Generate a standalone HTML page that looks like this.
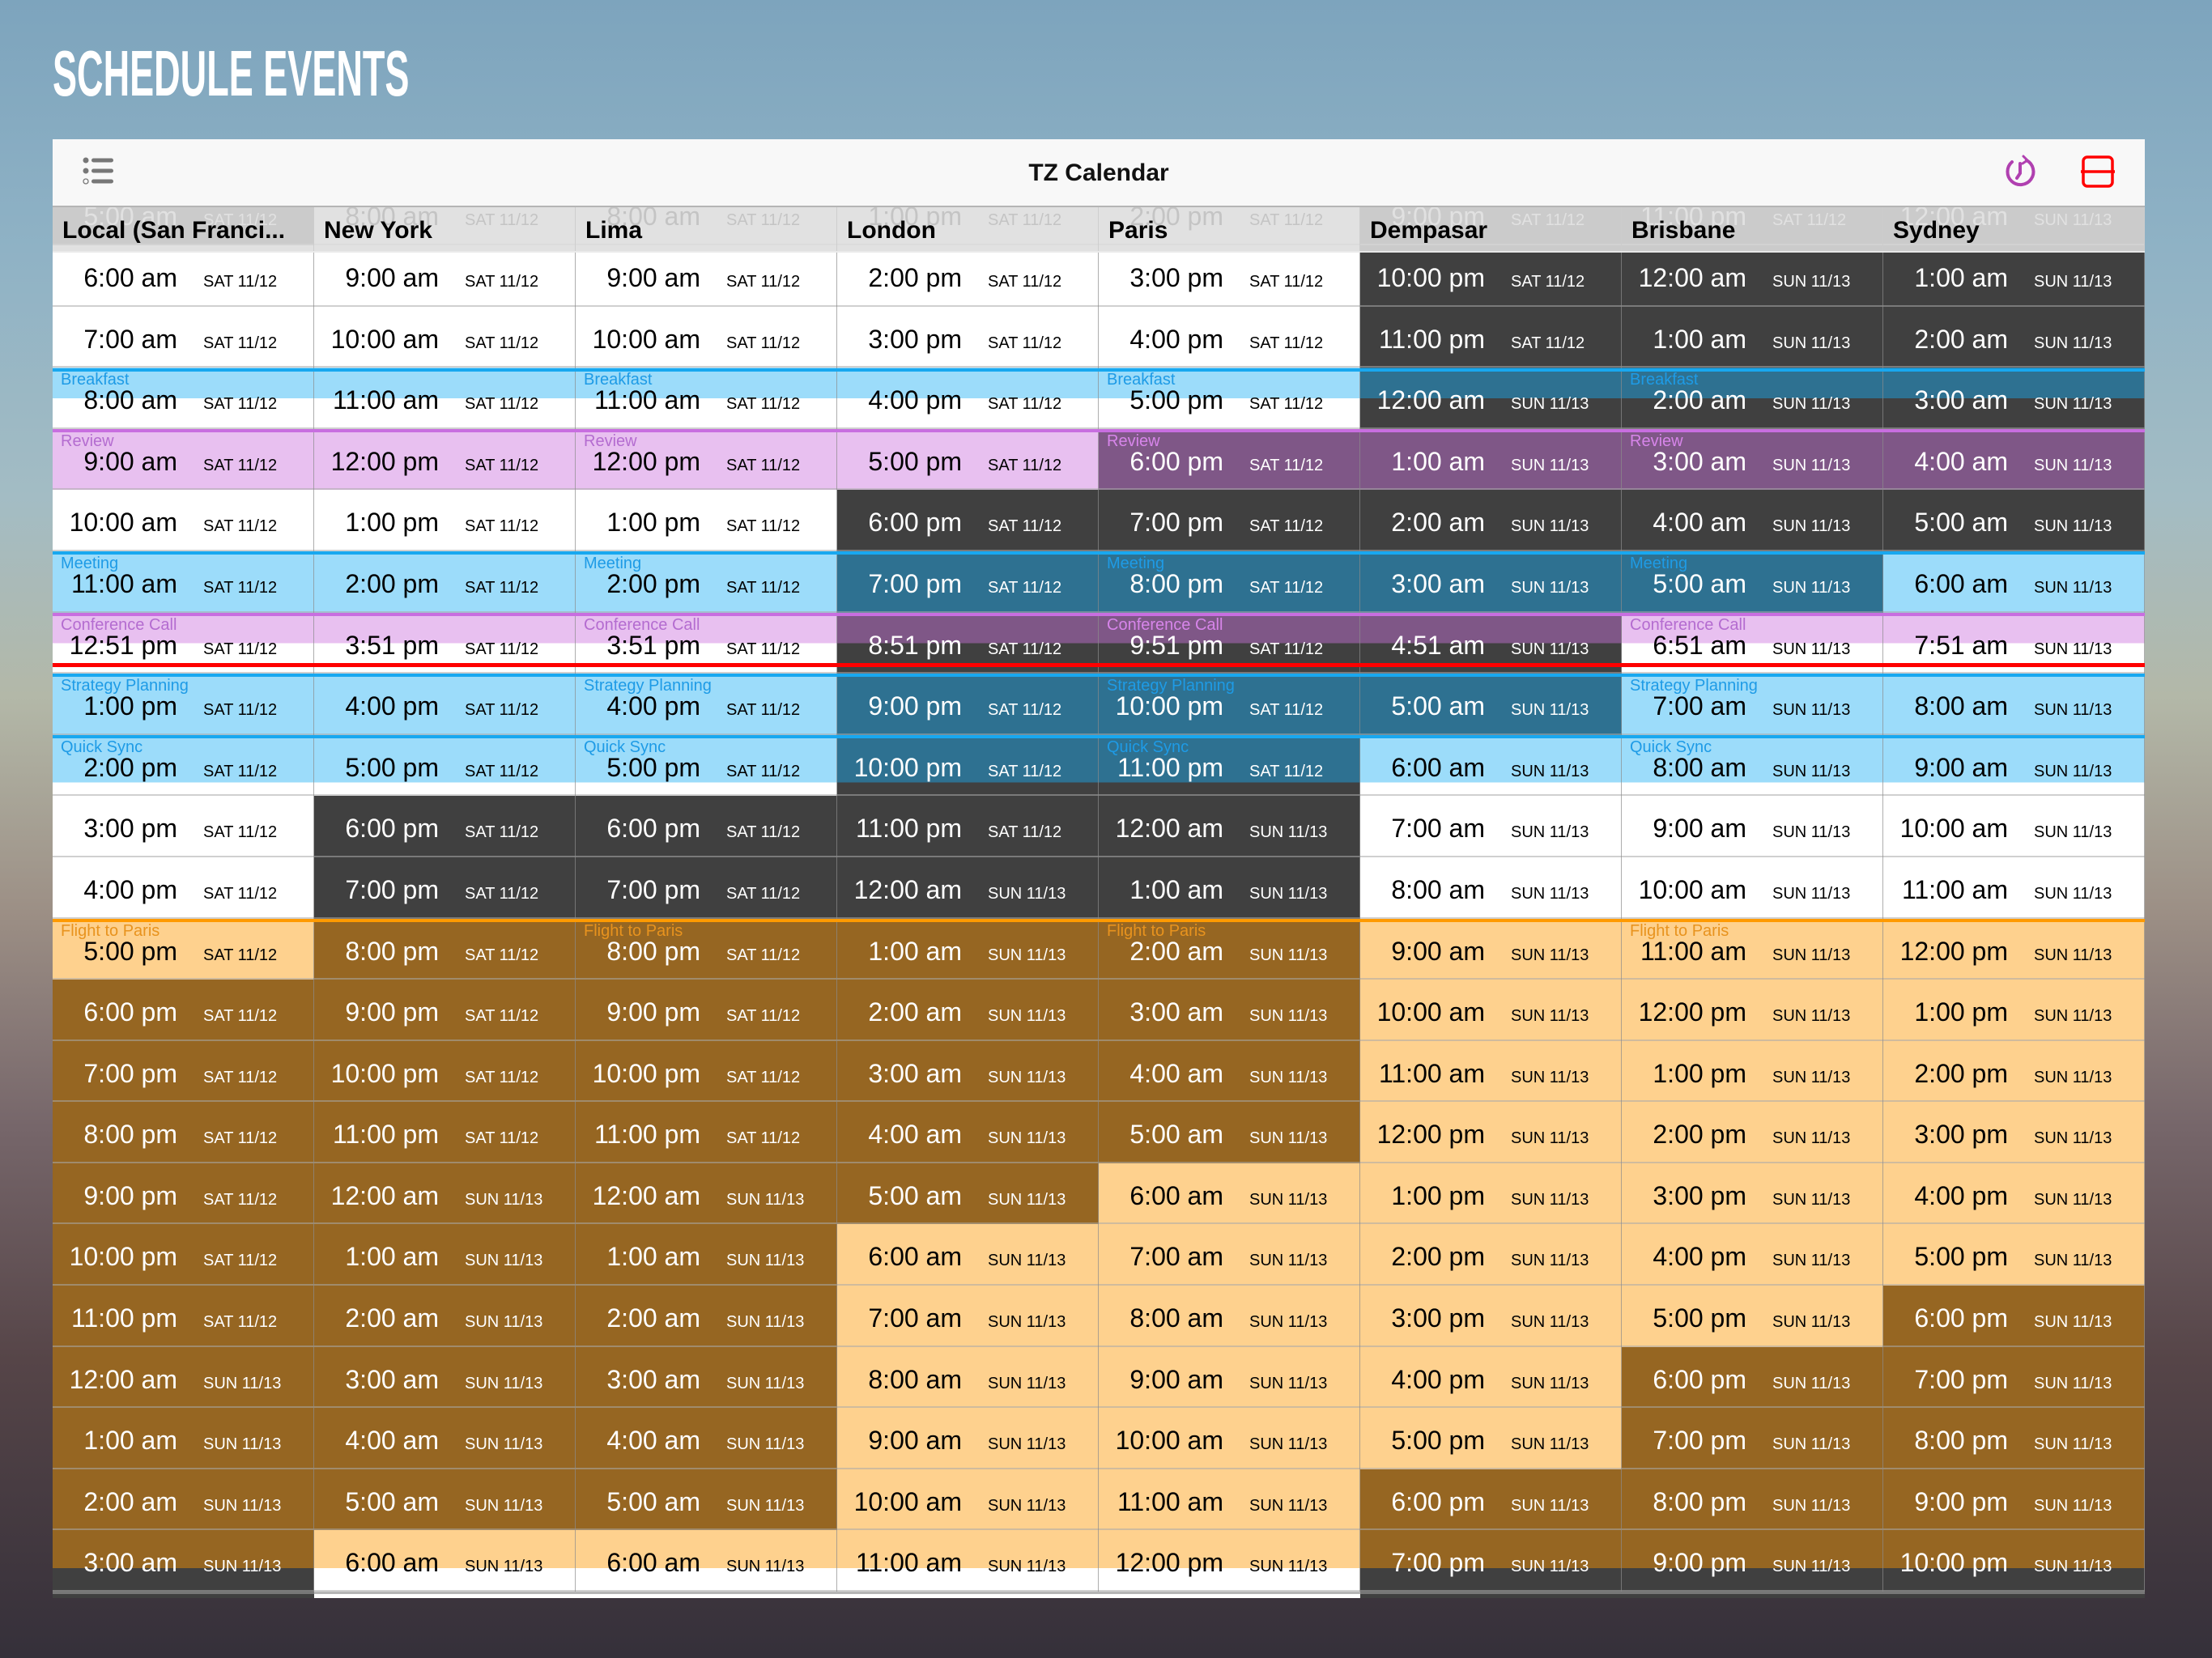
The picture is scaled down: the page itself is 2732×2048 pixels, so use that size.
<!DOCTYPE html>
<html><head><meta charset="utf-8"><style>
*{margin:0;padding:0;box-sizing:border-box}
body{width:2732px;height:2048px;overflow:hidden;position:relative;font-family:"Liberation Sans",sans-serif;
background:linear-gradient(180deg,#7da4bd 0%,#8fb2c5 15%,#a3bcc4 30%,#b3b8a8 42%,#9c8f85 55%,#76666a 68%,#564548 82%,#35303a 100%)}
.title{position:absolute;left:65px;top:51px;font-size:80px;line-height:80px;font-weight:bold;color:#fff;white-space:nowrap;transform:scaleX(.563);transform-origin:0 0}
.tb{position:absolute;left:65px;top:172px;width:2584px;height:84px;background:#f8f8f8;border-bottom:2px solid #b5b5b5;z-index:5}
.tb .t{position:absolute;left:0;right:0;top:27px;text-align:center;font-size:30px;line-height:30px;font-weight:bold;color:#111}
.g{position:absolute;left:65px;top:227.4px;display:grid;grid-template-columns:repeat(8,323px);grid-auto-rows:75.6px}
.g>div{position:relative;--f:0%;--e:transparent;background:linear-gradient(var(--e) 0,var(--e) var(--f),var(--b) var(--f));box-shadow:inset -1px 0 rgba(140,140,140,.7),inset 0 -2px rgba(170,170,170,.55)}
.D{--b:#fff;color:#000}.N{--b:#404040;color:#fff}
.D.B{--e:#9cdcfa}.N.B{--e:#2e7191}.D.P{--e:#e8c0f0}.N.P{--e:#7f5787}.D.O{--e:#fed18e}.N.O{--e:#966622}
.g>.f{--f:100%}.g>.h{--f:50%}.g>.q{--f:78%}.g>.l{--f:62%}
.g b{position:absolute;right:169px;top:24px;font-size:32px;line-height:32px;font-weight:normal;white-space:nowrap}
.g i{position:absolute;left:186px;top:35px;font-size:20px;line-height:20px;font-style:normal;white-space:nowrap}
.g s{position:absolute;left:10px;top:5px;font-size:20px;line-height:20px;text-decoration:none;white-space:nowrap}
.B s{color:#1e9be6}.P s{color:#b46cd0}.N.P s{color:#d785ea}.O s{color:#e8931e}
.hd{position:absolute;left:65px;top:256px;width:2584px;height:56px;display:grid;grid-template-columns:repeat(8,323px);z-index:3}
.hd div{background:rgba(221,221,221,.885);position:relative;border-bottom:2px solid rgba(235,235,235,.9);box-shadow:inset -1px 0 rgba(200,200,200,.6)}
.hd span{position:absolute;left:12px;top:14px;font-size:30px;line-height:30px;font-weight:bold;color:#000;white-space:nowrap}
.ln{position:absolute;left:65px;width:2584px;height:4px;z-index:2}
.bl{background:#18a8f0}.pl{background:#c86ee0}.ol{background:#ff9a00}
</style></head><body>
<div class="title">SCHEDULE EVENTS</div>
<div class="tb">
<svg style="position:absolute;left:0;top:0" width="2584" height="84">
<g fill="#777"><circle cx="41" cy="26" r="3.5"/><circle cx="41" cy="39" r="3.5"/><rect x="48" y="23.5" width="27" height="5" rx="2.5"/><rect x="48" y="36.5" width="27" height="5" rx="2.5"/><rect x="48" y="49.5" width="27" height="5" rx="2.5"/></g>
<circle cx="41" cy="52" r="3" fill="none" stroke="#777" stroke-width="1.3"/>
<g transform="translate(2430,40)" fill="none" stroke="#b040b0" stroke-width="4" stroke-linecap="round"><path d="M8-14A16 16 0 1 1 -10-12"/><path d="M0-10V2L-4 8"/><path d="M4-19L9-14L3-10" stroke-width="3"/></g>
<rect x="2508" y="22" width="36" height="36" rx="5" fill="none" stroke="#f00" stroke-width="3.5"/>
<line x1="2505" y1="40" x2="2547" y2="40" stroke="#f00" stroke-width="3.5"/>
</svg>
<div class="t">TZ Calendar</div></div>
<div class="hd"><div><span>Local (San Franci...</span></div><div><span>New York</span></div><div><span>Lima</span></div><div><span>London</span></div><div><span>Paris</span></div><div><span>Dempasar</span></div><div><span>Brisbane</span></div><div><span>Sydney</span></div></div>
<div class="g">
<div class="N"><b>5:00 am</b><i>SAT 11/12</i></div><div class="D"><b>8:00 am</b><i>SAT 11/12</i></div><div class="D"><b>8:00 am</b><i>SAT 11/12</i></div><div class="D"><b>1:00 pm</b><i>SAT 11/12</i></div><div class="D"><b>2:00 pm</b><i>SAT 11/12</i></div><div class="N"><b>9:00 pm</b><i>SAT 11/12</i></div><div class="N"><b>11:00 pm</b><i>SAT 11/12</i></div><div class="N"><b>12:00 am</b><i>SUN 11/13</i></div>
<div class="D"><b>6:00 am</b><i>SAT 11/12</i></div><div class="D"><b>9:00 am</b><i>SAT 11/12</i></div><div class="D"><b>9:00 am</b><i>SAT 11/12</i></div><div class="D"><b>2:00 pm</b><i>SAT 11/12</i></div><div class="D"><b>3:00 pm</b><i>SAT 11/12</i></div><div class="N"><b>10:00 pm</b><i>SAT 11/12</i></div><div class="N"><b>12:00 am</b><i>SUN 11/13</i></div><div class="N"><b>1:00 am</b><i>SUN 11/13</i></div>
<div class="D"><b>7:00 am</b><i>SAT 11/12</i></div><div class="D"><b>10:00 am</b><i>SAT 11/12</i></div><div class="D"><b>10:00 am</b><i>SAT 11/12</i></div><div class="D"><b>3:00 pm</b><i>SAT 11/12</i></div><div class="D"><b>4:00 pm</b><i>SAT 11/12</i></div><div class="N"><b>11:00 pm</b><i>SAT 11/12</i></div><div class="N"><b>1:00 am</b><i>SUN 11/13</i></div><div class="N"><b>2:00 am</b><i>SUN 11/13</i></div>
<div class="D B h"><s>Breakfast</s><b>8:00 am</b><i>SAT 11/12</i></div><div class="D B h"><b>11:00 am</b><i>SAT 11/12</i></div><div class="D B h"><s>Breakfast</s><b>11:00 am</b><i>SAT 11/12</i></div><div class="D B h"><b>4:00 pm</b><i>SAT 11/12</i></div><div class="D B h"><s>Breakfast</s><b>5:00 pm</b><i>SAT 11/12</i></div><div class="N B h"><b>12:00 am</b><i>SUN 11/13</i></div><div class="N B h"><s>Breakfast</s><b>2:00 am</b><i>SUN 11/13</i></div><div class="N B h"><b>3:00 am</b><i>SUN 11/13</i></div>
<div class="D P f"><s>Review</s><b>9:00 am</b><i>SAT 11/12</i></div><div class="D P f"><b>12:00 pm</b><i>SAT 11/12</i></div><div class="D P f"><s>Review</s><b>12:00 pm</b><i>SAT 11/12</i></div><div class="D P f"><b>5:00 pm</b><i>SAT 11/12</i></div><div class="N P f"><s>Review</s><b>6:00 pm</b><i>SAT 11/12</i></div><div class="N P f"><b>1:00 am</b><i>SUN 11/13</i></div><div class="N P f"><s>Review</s><b>3:00 am</b><i>SUN 11/13</i></div><div class="N P f"><b>4:00 am</b><i>SUN 11/13</i></div>
<div class="D"><b>10:00 am</b><i>SAT 11/12</i></div><div class="D"><b>1:00 pm</b><i>SAT 11/12</i></div><div class="D"><b>1:00 pm</b><i>SAT 11/12</i></div><div class="N"><b>6:00 pm</b><i>SAT 11/12</i></div><div class="N"><b>7:00 pm</b><i>SAT 11/12</i></div><div class="N"><b>2:00 am</b><i>SUN 11/13</i></div><div class="N"><b>4:00 am</b><i>SUN 11/13</i></div><div class="N"><b>5:00 am</b><i>SUN 11/13</i></div>
<div class="D B f"><s>Meeting</s><b>11:00 am</b><i>SAT 11/12</i></div><div class="D B f"><b>2:00 pm</b><i>SAT 11/12</i></div><div class="D B f"><s>Meeting</s><b>2:00 pm</b><i>SAT 11/12</i></div><div class="N B f"><b>7:00 pm</b><i>SAT 11/12</i></div><div class="N B f"><s>Meeting</s><b>8:00 pm</b><i>SAT 11/12</i></div><div class="N B f"><b>3:00 am</b><i>SUN 11/13</i></div><div class="N B f"><s>Meeting</s><b>5:00 am</b><i>SUN 11/13</i></div><div class="D B f"><b>6:00 am</b><i>SUN 11/13</i></div>
<div class="D P h"><s>Conference Call</s><b>12:51 pm</b><i>SAT 11/12</i></div><div class="D P h"><b>3:51 pm</b><i>SAT 11/12</i></div><div class="D P h"><s>Conference Call</s><b>3:51 pm</b><i>SAT 11/12</i></div><div class="N P h"><b>8:51 pm</b><i>SAT 11/12</i></div><div class="N P h"><s>Conference Call</s><b>9:51 pm</b><i>SAT 11/12</i></div><div class="N P h"><b>4:51 am</b><i>SUN 11/13</i></div><div class="D P h"><s>Conference Call</s><b>6:51 am</b><i>SUN 11/13</i></div><div class="D P h"><b>7:51 am</b><i>SUN 11/13</i></div>
<div class="D B f"><s>Strategy Planning</s><b>1:00 pm</b><i>SAT 11/12</i></div><div class="D B f"><b>4:00 pm</b><i>SAT 11/12</i></div><div class="D B f"><s>Strategy Planning</s><b>4:00 pm</b><i>SAT 11/12</i></div><div class="N B f"><b>9:00 pm</b><i>SAT 11/12</i></div><div class="N B f"><s>Strategy Planning</s><b>10:00 pm</b><i>SAT 11/12</i></div><div class="N B f"><b>5:00 am</b><i>SUN 11/13</i></div><div class="D B f"><s>Strategy Planning</s><b>7:00 am</b><i>SUN 11/13</i></div><div class="D B f"><b>8:00 am</b><i>SUN 11/13</i></div>
<div class="D B q"><s>Quick Sync</s><b>2:00 pm</b><i>SAT 11/12</i></div><div class="D B q"><b>5:00 pm</b><i>SAT 11/12</i></div><div class="D B q"><s>Quick Sync</s><b>5:00 pm</b><i>SAT 11/12</i></div><div class="N B q"><b>10:00 pm</b><i>SAT 11/12</i></div><div class="N B q"><s>Quick Sync</s><b>11:00 pm</b><i>SAT 11/12</i></div><div class="D B q"><b>6:00 am</b><i>SUN 11/13</i></div><div class="D B q"><s>Quick Sync</s><b>8:00 am</b><i>SUN 11/13</i></div><div class="D B q"><b>9:00 am</b><i>SUN 11/13</i></div>
<div class="D"><b>3:00 pm</b><i>SAT 11/12</i></div><div class="N"><b>6:00 pm</b><i>SAT 11/12</i></div><div class="N"><b>6:00 pm</b><i>SAT 11/12</i></div><div class="N"><b>11:00 pm</b><i>SAT 11/12</i></div><div class="N"><b>12:00 am</b><i>SUN 11/13</i></div><div class="D"><b>7:00 am</b><i>SUN 11/13</i></div><div class="D"><b>9:00 am</b><i>SUN 11/13</i></div><div class="D"><b>10:00 am</b><i>SUN 11/13</i></div>
<div class="D"><b>4:00 pm</b><i>SAT 11/12</i></div><div class="N"><b>7:00 pm</b><i>SAT 11/12</i></div><div class="N"><b>7:00 pm</b><i>SAT 11/12</i></div><div class="N"><b>12:00 am</b><i>SUN 11/13</i></div><div class="N"><b>1:00 am</b><i>SUN 11/13</i></div><div class="D"><b>8:00 am</b><i>SUN 11/13</i></div><div class="D"><b>10:00 am</b><i>SUN 11/13</i></div><div class="D"><b>11:00 am</b><i>SUN 11/13</i></div>
<div class="D O f"><s>Flight to Paris</s><b>5:00 pm</b><i>SAT 11/12</i></div><div class="N O f"><b>8:00 pm</b><i>SAT 11/12</i></div><div class="N O f"><s>Flight to Paris</s><b>8:00 pm</b><i>SAT 11/12</i></div><div class="N O f"><b>1:00 am</b><i>SUN 11/13</i></div><div class="N O f"><s>Flight to Paris</s><b>2:00 am</b><i>SUN 11/13</i></div><div class="D O f"><b>9:00 am</b><i>SUN 11/13</i></div><div class="D O f"><s>Flight to Paris</s><b>11:00 am</b><i>SUN 11/13</i></div><div class="D O f"><b>12:00 pm</b><i>SUN 11/13</i></div>
<div class="N O f"><b>6:00 pm</b><i>SAT 11/12</i></div><div class="N O f"><b>9:00 pm</b><i>SAT 11/12</i></div><div class="N O f"><b>9:00 pm</b><i>SAT 11/12</i></div><div class="N O f"><b>2:00 am</b><i>SUN 11/13</i></div><div class="N O f"><b>3:00 am</b><i>SUN 11/13</i></div><div class="D O f"><b>10:00 am</b><i>SUN 11/13</i></div><div class="D O f"><b>12:00 pm</b><i>SUN 11/13</i></div><div class="D O f"><b>1:00 pm</b><i>SUN 11/13</i></div>
<div class="N O f"><b>7:00 pm</b><i>SAT 11/12</i></div><div class="N O f"><b>10:00 pm</b><i>SAT 11/12</i></div><div class="N O f"><b>10:00 pm</b><i>SAT 11/12</i></div><div class="N O f"><b>3:00 am</b><i>SUN 11/13</i></div><div class="N O f"><b>4:00 am</b><i>SUN 11/13</i></div><div class="D O f"><b>11:00 am</b><i>SUN 11/13</i></div><div class="D O f"><b>1:00 pm</b><i>SUN 11/13</i></div><div class="D O f"><b>2:00 pm</b><i>SUN 11/13</i></div>
<div class="N O f"><b>8:00 pm</b><i>SAT 11/12</i></div><div class="N O f"><b>11:00 pm</b><i>SAT 11/12</i></div><div class="N O f"><b>11:00 pm</b><i>SAT 11/12</i></div><div class="N O f"><b>4:00 am</b><i>SUN 11/13</i></div><div class="N O f"><b>5:00 am</b><i>SUN 11/13</i></div><div class="D O f"><b>12:00 pm</b><i>SUN 11/13</i></div><div class="D O f"><b>2:00 pm</b><i>SUN 11/13</i></div><div class="D O f"><b>3:00 pm</b><i>SUN 11/13</i></div>
<div class="N O f"><b>9:00 pm</b><i>SAT 11/12</i></div><div class="N O f"><b>12:00 am</b><i>SUN 11/13</i></div><div class="N O f"><b>12:00 am</b><i>SUN 11/13</i></div><div class="N O f"><b>5:00 am</b><i>SUN 11/13</i></div><div class="D O f"><b>6:00 am</b><i>SUN 11/13</i></div><div class="D O f"><b>1:00 pm</b><i>SUN 11/13</i></div><div class="D O f"><b>3:00 pm</b><i>SUN 11/13</i></div><div class="D O f"><b>4:00 pm</b><i>SUN 11/13</i></div>
<div class="N O f"><b>10:00 pm</b><i>SAT 11/12</i></div><div class="N O f"><b>1:00 am</b><i>SUN 11/13</i></div><div class="N O f"><b>1:00 am</b><i>SUN 11/13</i></div><div class="D O f"><b>6:00 am</b><i>SUN 11/13</i></div><div class="D O f"><b>7:00 am</b><i>SUN 11/13</i></div><div class="D O f"><b>2:00 pm</b><i>SUN 11/13</i></div><div class="D O f"><b>4:00 pm</b><i>SUN 11/13</i></div><div class="D O f"><b>5:00 pm</b><i>SUN 11/13</i></div>
<div class="N O f"><b>11:00 pm</b><i>SAT 11/12</i></div><div class="N O f"><b>2:00 am</b><i>SUN 11/13</i></div><div class="N O f"><b>2:00 am</b><i>SUN 11/13</i></div><div class="D O f"><b>7:00 am</b><i>SUN 11/13</i></div><div class="D O f"><b>8:00 am</b><i>SUN 11/13</i></div><div class="D O f"><b>3:00 pm</b><i>SUN 11/13</i></div><div class="D O f"><b>5:00 pm</b><i>SUN 11/13</i></div><div class="N O f"><b>6:00 pm</b><i>SUN 11/13</i></div>
<div class="N O f"><b>12:00 am</b><i>SUN 11/13</i></div><div class="N O f"><b>3:00 am</b><i>SUN 11/13</i></div><div class="N O f"><b>3:00 am</b><i>SUN 11/13</i></div><div class="D O f"><b>8:00 am</b><i>SUN 11/13</i></div><div class="D O f"><b>9:00 am</b><i>SUN 11/13</i></div><div class="D O f"><b>4:00 pm</b><i>SUN 11/13</i></div><div class="N O f"><b>6:00 pm</b><i>SUN 11/13</i></div><div class="N O f"><b>7:00 pm</b><i>SUN 11/13</i></div>
<div class="N O f"><b>1:00 am</b><i>SUN 11/13</i></div><div class="N O f"><b>4:00 am</b><i>SUN 11/13</i></div><div class="N O f"><b>4:00 am</b><i>SUN 11/13</i></div><div class="D O f"><b>9:00 am</b><i>SUN 11/13</i></div><div class="D O f"><b>10:00 am</b><i>SUN 11/13</i></div><div class="D O f"><b>5:00 pm</b><i>SUN 11/13</i></div><div class="N O f"><b>7:00 pm</b><i>SUN 11/13</i></div><div class="N O f"><b>8:00 pm</b><i>SUN 11/13</i></div>
<div class="N O f"><b>2:00 am</b><i>SUN 11/13</i></div><div class="N O f"><b>5:00 am</b><i>SUN 11/13</i></div><div class="N O f"><b>5:00 am</b><i>SUN 11/13</i></div><div class="D O f"><b>10:00 am</b><i>SUN 11/13</i></div><div class="D O f"><b>11:00 am</b><i>SUN 11/13</i></div><div class="N O f"><b>6:00 pm</b><i>SUN 11/13</i></div><div class="N O f"><b>8:00 pm</b><i>SUN 11/13</i></div><div class="N O f"><b>9:00 pm</b><i>SUN 11/13</i></div>
<div class="N O l"><b>3:00 am</b><i>SUN 11/13</i></div><div class="D O l"><b>6:00 am</b><i>SUN 11/13</i></div><div class="D O l"><b>6:00 am</b><i>SUN 11/13</i></div><div class="D O l"><b>11:00 am</b><i>SUN 11/13</i></div><div class="D O l"><b>12:00 pm</b><i>SUN 11/13</i></div><div class="N O l"><b>7:00 pm</b><i>SUN 11/13</i></div><div class="N O l"><b>9:00 pm</b><i>SUN 11/13</i></div><div class="N O l"><b>10:00 pm</b><i>SUN 11/13</i></div>
</div>
<div style="position:absolute;left:65px;top:1966px;width:2584px;height:8px;display:grid;grid-template-columns:repeat(8,323px)">
<div style="background:#404040;border-top:3px solid #777"></div><div style="background:#fff;border-top:3px solid #b5b5b5"></div><div style="background:#fff;border-top:3px solid #b5b5b5"></div><div style="background:#fff;border-top:3px solid #b5b5b5"></div><div style="background:#fff;border-top:3px solid #b5b5b5"></div><div style="background:#404040;border-top:3px solid #777"></div><div style="background:#404040;border-top:3px solid #777"></div><div style="background:#404040;border-top:3px solid #777"></div></div>
<div class="ln bl" style="top:455px"></div>
<div class="ln pl" style="top:530px"></div>
<div class="ln bl" style="top:681px"></div>
<div class="ln pl" style="top:757px"></div>
<div class="ln bl" style="top:832px"></div>
<div class="ln bl" style="top:908px"></div>
<div class="ln ol" style="top:1135px"></div>
<div class="ln" style="top:819px;height:5px;background:#f00"></div>
</body></html>
